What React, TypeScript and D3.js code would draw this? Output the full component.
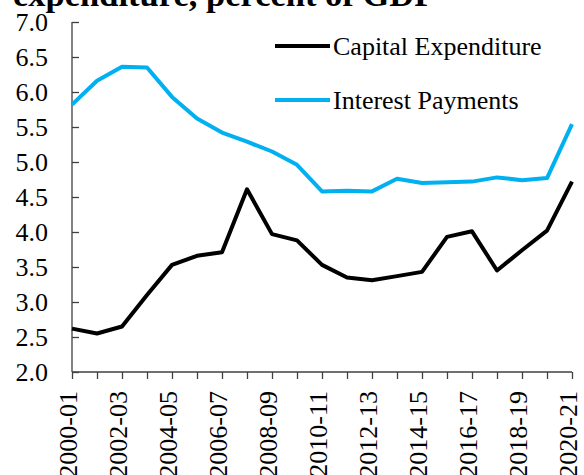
import { useEffect, useRef } from 'react'
import * as d3 from 'd3'

const years = [
  '2000-01', '2001-02', '2002-03', '2003-04', '2004-05', '2005-06', '2006-07',
  '2007-08', '2008-09', '2009-10', '2010-11', '2011-12', '2012-13', '2013-14',
  '2014-15', '2015-16', '2016-17', '2017-18', '2018-19', '2019-20', '2020-21',
]
const capitalExpenditure = [
  2.62, 2.55, 2.65, 3.1, 3.53, 3.66, 3.71, 4.61, 3.97, 3.88, 3.53,
  3.35, 3.31, 3.37, 3.43, 3.93, 4.01, 3.45, 3.74, 4.02, 4.72,
]
const interestPayments = [
  5.82, 6.16, 6.36, 6.35, 5.93, 5.62, 5.42, 5.29, 5.15, 4.96, 4.58,
  4.59, 4.58, 4.76, 4.7, 4.71, 4.72, 4.78, 4.74, 4.77, 5.54,
]
const yTicks = [2.0, 2.5, 3.0, 3.5, 4.0, 4.5, 5.0, 5.5, 6.0, 6.5, 7.0]

const series = [
  { name: 'Capital Expenditure', values: capitalExpenditure, color: '#000000' },
  { name: 'Interest Payments', values: interestPayments, color: '#00B0F0' },
]

const FONT = '"Liberation Serif", "Times New Roman", serif'

export default function App() {
  const svgRef = useRef<SVGSVGElement>(null)

  useEffect(() => {
    if (!svgRef.current) return
    const width = 584
    const height = 475
    const margin = { top: 22, right: 12, bottom: 103, left: 72 }
    const innerW = width - margin.left - margin.right
    const innerH = height - margin.top - margin.bottom

    const svg = d3.select(svgRef.current)
    svg.selectAll('*').remove()
    svg.attr('width', width).attr('height', height)

    // Title (cut off at top, as in the source)
    svg.append('text')
      .attr('x', 13).attr('y', 6)
      .attr('font-family', FONT).attr('font-weight', 'bold').attr('font-size', '34.5px')
      .attr('fill', '#000')
      .text('expenditure, percent of GDP')

    const g = svg.append('g').attr('transform', `translate(${margin.left},${margin.top})`)

    const x = d3.scalePoint().domain(years).range([0, innerW])
    const y = d3.scaleLinear().domain([2, 7]).range([innerH, 0])

    // Y axis
    g.append('g')
      .call(d3.axisRight(y).tickValues(yTicks).tickSize(7).tickFormat(() => ''))
      .call(ax => ax.selectAll('line, path').attr('stroke', '#404040').attr('stroke-width', 1.3))
      .call(ax => ax.select('.domain').attr('d', `M0,${innerH}V0`))
    yTicks.forEach(t => {
      g.append('text')
        .attr('x', -24).attr('y', y(t)).attr('dy', '0.34em')
        .attr('text-anchor', 'end')
        .attr('font-family', FONT).attr('font-size', '26px').attr('fill', '#000')
        .text(d3.format('.1f')(t))
    })

    // X axis
    g.append('g')
      .attr('transform', `translate(0,${innerH})`)
      .call(d3.axisBottom(x).tickSize(7).tickFormat(() => ''))
      .call(ax => ax.selectAll('line, path').attr('stroke', '#404040').attr('stroke-width', 1.3))
      .call(ax => ax.select('.domain').attr('d', `M0,0H${innerW}`))
    years.forEach((yr, i) => {
      if (i % 2 !== 0) return
      g.append('text')
        .attr('transform', `translate(${x(yr)! + 5},${innerH + 19}) rotate(-90)`)
        .attr('text-anchor', 'end')
        .attr('font-family', FONT).attr('font-size', '26px').attr('fill', '#000')
        .text(yr)
    })

    // Lines
    series.forEach(s => {
      const line = d3.line<number>()
        .x((_, i) => x(years[i])!)
        .y(v => y(v))
      g.append('path')
        .datum(s.values)
        .attr('fill', 'none')
        .attr('stroke', s.color)
        .attr('stroke-width', 4)
        .attr('stroke-linejoin', 'round')
        .attr('d', line)
    })

    // Legend
    const legend = svg.append('g').attr('transform', 'translate(275,46)')
    series.forEach((s, i) => {
      legend.append('line')
        .attr('x1', 0).attr('x2', 55).attr('y1', i * 54).attr('y2', i * 54)
        .attr('stroke', s.color).attr('stroke-width', 4)
      legend.append('text')
        .attr('x', 58).attr('y', i * 54).attr('dy', '0.34em')
        .attr('font-family', FONT).attr('font-size', '26px').attr('fill', '#000')
        .text(s.name)
    })
  }, [])

  return (
    <svg ref={svgRef} style={{ position: 'absolute', left: 0, top: 0 }} />
  )
}
